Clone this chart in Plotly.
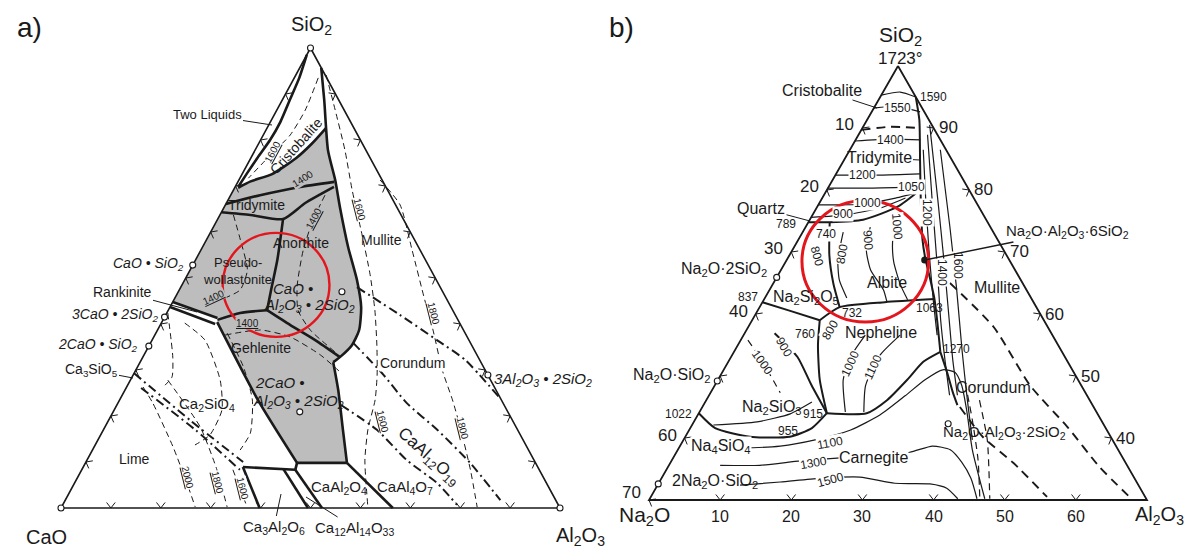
import math
import plotly.graph_objects as go

W, H = 1187, 551
INK = "#1a1a1a"
GREY = "#bdbdbd"
RED = "#e3161e"
FONT = "Arial, Liberation Sans, sans-serif"

# ---------------- CaO–Al2O3–SiO2 (wt %); points are (SiO2, Al2O3) ----------------
cas_two_liquid = [(98.5, 0.0), (93.5, 1.0), (88.7, 1.5), (83.9, 2.0), (80.0, 1.9), (76.1, 1.3), (72.8, 0.9), (69.8, 0.6)]
cas_cristobalite = [(69.6, 0.7), (71.0, 2.5), (72.6, 6.0), (76.1, 9.1), (79.3, 10.7), (82.6, 11.8)]
cas_silica_right = [(95.7, 4.3), (88.7, 8.4), (77.8, 14.6), (71.3, 19.3), (65.4, 23.2), (56.7, 29.2), (49.6, 34.5),
                    (43.7, 38.3), (38.7, 40.4), (35.4, 40.6), (32.8, 39.5), (31.7, 38.7)]
cas_gehlenite_right = [(31.7, 38.7), (25.7, 42.7), (17.0, 48.0), (9.8, 52.4)]
cas_gehlenite_base = [(9.8, 42.4), (9.8, 52.4)]
cas_gehlenite_left = [(40.4, 11.1), (23.5, 27.7), (9.8, 42.4)]
cas_tridymite_upper = [(66.1, 0.0), (68.0, 5.9), (69.8, 13.0), (70.9, 19.3)]
cas_tridymite_lower = [(64.3, 0.0), (63.7, 6.1), (62.8, 13.1), (66.3, 15.8), (69.8, 19.8)]
cas_pwol_anorthite = [(62.8, 13.1), (53.9, 16.4), (47.4, 18.4), (43.0, 19.8)]
cas_anorthite_gehl = [(43.0, 19.8), (39.8, 26.0), (36.5, 32.7), (32.8, 39.5)]
cas_pwol_gehl = [(43.0, 19.8), (42.4, 14.7), (40.9, 10.9)]
cas_rankinite_a = [(44.8, 0.0), (41.3, 10.7)]
cas_rankinite_b = [(43.7, 0.0), (40.0, 10.9)]
cas_c3a_left = [(8.9, 32.0), (0.0, 39.8)]
cas_c3a_top = [(8.9, 32.0), (8.3, 42.8)]
cas_notch = [(9.8, 42.4), (8.3, 42.8)]
cas_c12a7_a = [(8.5, 40.3), (0.0, 49.5)]
cas_c12a7_b = [(8.3, 42.8), (0.0, 52.3)]
cas_ca_ca2 = [(9.8, 52.4), (0.0, 66.5)]

# dash-dot joins
cas_join_c3s = [(29.3, 0.0), (19.1, 16.3), (10.0, 31.5)]
cas_join_c2s = [(26.1, 3.0), (17.0, 18.4), (8.3, 31.7)]
cas_join_mullite = [(48.0, 35.3), (42.0, 46.9), (36.5, 57.1), (32.2, 64.9), (23.9, 76.0)]
cas_join_an = [(35.9, 40.6), (29.3, 49.7), (22.8, 57.9), (17.0, 66.9), (9.8, 77.1), (1.7, 87.2)]
cas_join_geh = [(22.4, 44.9), (17.0, 54.8), (10.4, 64.1), (5.4, 72.7), (0.7, 79.0)]

# dashed isotherms
cas_iso_1600_crist = [(93.5, 4.8), (86.5, 5.7), (81.1, 5.4), (76.7, 3.6), (71.7, 1.7)]
cas_iso_1600 = [(94.1, 6.1), (86.5, 11.7), (77.8, 18.0), (69.1, 23.8), (59.3, 30.7), (50.7, 36.6), (43.0, 41.4),
                (35.4, 45.6), (28.9, 48.9), (23.5, 51.2), (17.0, 53.0), (10.4, 55.7), (0.2, 61.4)]
cas_iso_1800 = [(71.3, 28.3), (65.9, 35.0), (56.1, 42.3), (45.2, 50.3), (38.7, 55.2), (30.0, 61.4), (23.5, 66.7),
                (17.6, 71.2), (8.3, 77.9), (0.2, 83.3)]
cas_iso_1400_an = [(68.0, 18.9), (62.6, 19.2), (56.1, 20.5), (48.5, 23.1), (43.0, 26.0), (38.7, 30.6), (33.9, 38.0)]
cas_iso_1400_pw = [(63.7, 2.7), (58.3, 6.8), (51.7, 11.5), (47.4, 12.2), (45.7, 10.1)]
cas_iso_1400_geh = [(37.6, 14.1), (38.7, 20.6), (37.2, 27.3), (33.3, 35.3), (29.6, 41.1)]
cas_iso_2000 = [(26.3, 3.3), (22.8, 7.0), (13.3, 15.8), (4.6, 23.2), (0.2, 26.8)]
cas_iso_1800_lime = [(27.8, 7.5), (17.6, 19.1), (8.3, 27.1), (0.2, 33.2)]
cas_iso_1600_lime = [(8.3, 30.3), (0.2, 37.2)]
cas_loop_a = [(42.4, 0.2), (32.8, 6.0), (28.5, 8.0), (26.7, 7.5)]
cas_loop_b = [(40.2, 4.7), (36.5, 10.6), (27.8, 18.0), (21.3, 21.6), (15.9, 21.9), (13.7, 20.0)]
cas_loop_c = [(38.0, 14.3), (30.7, 21.2), (23.5, 26.6), (16.3, 29.8), (12.6, 29.6)]

# compounds (open circles)
cas_compounds = [(100.0, 0.0), (0.0, 0.0), (0.0, 100.0), (52.8, 0.0), (41.5, 0.0), (35.2, 0.0),
                 (28.9, 71.1), (47.0, 32.8), (20.9, 37.4)]
cas_tick_values = [10, 20, 30, 40, 50, 60, 70, 80, 90]

# ---------------- Na2O–Al2O3–SiO2 (wt %, SiO2 >= 30); points are (SiO2, Al2O3) ----------------
nas_iso_1590 = [(95.3, 0.0), (95.8, 2.4), (95.0, 5.0)]
nas_iso_1550 = [(93.2, 0.0), (93.5, 3.1), (92.6, 6.8)]
nas_inversion = [(89.7, 0.0), (90.2, 3.8), (90.0, 8.1)]
nas_iso_1400 = [(87.9, 0.0), (88.2, 4.8), (88.1, 9.1)]
nas_iso_1200 = [(82.4, 0.0), (82.4, 6.3), (82.6, 11.8)]
nas_iso_1050 = [(80.3, 0.0), (80.3, 5.9), (80.5, 12.9)]
nas_iso_1000 = [(77.6, 0.0), (77.7, 5.8), (78.7, 10.3), (79.7, 13.3)]
nas_iso_900 = [(75.6, 0.0), (76.0, 4.6), (77.1, 9.0), (78.7, 11.7)]
nas_qz_trid = [(74.8, 0.0), (74.8, 3.0), (75.2, 7.5), (77.3, 11.3), (80.0, 13.1)]
nas_silica_mullite = [(95.0, 5.0), (91.3, 7.35), (84.8, 10.7), (78.4, 14.0), (71.9, 17.5), (69.2, 19.2),
                      (65.5, 21.8), (62.6, 23.8), (59.0, 26.0), (53.9, 29.0)]
nas_corundum_left = [(53.9, 29.0), (50.6, 31.6), (47.4, 34.0), (45.3, 35.7)]
nas_qz_albite = [(74.8, 3.0), (69.5, 5.6), (65.0, 8.4), (61.1, 11.25)]
nas_albite_neph = [(59.0, 9.5), (61.1, 11.25), (61.9, 17.2), (62.4, 24.0)]
nas_ns2_lower = [(61.9, 0.0), (60.5, 4.6), (59.0, 9.5)]
nas_ns_neph = [(59.0, 9.5), (55.0, 11.25), (49.4, 14.3), (44.0, 18.0)]
nas_ns_ns2 = [(56.9, 4.2), (53.1, 9.3), (48.5, 13.6), (44.0, 18.0)]
nas_ns_n2s = [(44.0, 0.0), (41.6, 3.5), (40.2, 9.1), (40.2, 14.7), (41.6, 17.1), (44.0, 18.0)]
nas_iso_955 = [(42.1, 3.0), (42.6, 8.9), (43.9, 12.9), (45.8, 15.0)]
nas_carn_neph = [(44.0, 18.0), (44.0, 23.6), (46.1, 25.4), (49.4, 26.6), (52.3, 27.4), (53.9, 29.0)]
nas_iso_1100 = [(38.5, 2.9), (38.4, 8.6), (38.7, 14.1), (39.7, 18.5), (41.3, 22.7), (43.7, 25.6), (46.8, 27.6),
                (49.4, 29.1), (51.0, 30.8), (50.6, 32.7), (48.5, 34.7), (44.5, 37.4), (38.1, 41.4), (30.2, 47.1)]
nas_iso_1300 = [(35.6, 7.2), (35.6, 12.8), (36.3, 18.1), (36.8, 23.5), (37.3, 28.2), (37.7, 32.8), (38.7, 35.5),
                (38.1, 38.3), (36.1, 40.9), (33.5, 43.5), (30.2, 46.0)]
nas_iso_1500 = [(32.4, 11.6), (32.9, 17.0), (33.5, 22.2), (33.7, 27.8), (32.7, 33.2), (32.6, 38.2), (31.9, 40.9),
                (30.2, 43.3)]
nas_mullite_corundum = [(65.0, 24.8), (57.9, 34.5), (48.5, 44.3), (41.8, 52.9), (35.3, 60.7), (30.0, 68.0)]
nas_corundum_join = [(45.0, 36.2), (40.2, 41.8), (36.0, 48.2), (30.5, 55.7)]
nas_dash_a = [(48.9, 35.0), (42.9, 39.0), (36.5, 43.0), (30.2, 46.4)]
nas_dash_b = [(46.1, 38.4), (39.7, 42.7), (30.2, 47.8)]
nas_mul_1200 = [(86.5, 10.3), (78.4, 14.7), (70.3, 19.2), (62.3, 23.8), (56.6, 27.2)]
nas_mul_1400 = [(88.9, 9.7), (78.4, 15.6), (68.7, 21.1), (59.0, 26.5), (52.6, 30.3), (46.9, 33.8)]
nas_mul_1500 = [(90.5, 9.2), (78.4, 16.4), (68.7, 22.1), (59.0, 27.7), (52.6, 31.4), (46.9, 34.9)]
nas_mul_1600 = [(86.5, 12.7), (74.0, 20.3), (63.9, 26.3), (54.2, 31.9), (46.1, 36.7), (39.7, 40.6)]
nas_neph_1000 = [(56.6, 17.1), (53.4, 16.8), (49.4, 17.6), (44.2, 20.5)]
nas_neph_1100 = [(56.6, 22.0), (53.4, 20.8), (48.5, 21.2), (44.2, 23.1)]
nas_ns_1000 = [(55.8, 1.0), (52.3, 4.8), (47.3, 9.8)]
nas_ab_800 = [(73.2, 5.7), (68.7, 7.2), (65.5, 9.0), (62.6, 11.5)]
nas_ab_900 = [(74.0, 9.1), (70.3, 10.4), (67.1, 12.6), (63.9, 16.0), (61.9, 17.5)]
nas_ab_1000 = [(76.3, 11.8), (71.9, 13.3), (68.4, 15.2), (64.7, 18.0), (62.3, 20.2)]

nas_compounds_open = [(65.9, 0.0), (49.2, 0.0), (32.6, 0.0), (42.3, 35.9)]
nas_albite = [(68.7, 19.4)]
nas_base_ticks = [10, 20, 30, 40, 50, 60]          # Al2O3 on the SiO2 = 30 edge
nas_left_marks = [10, 20, 30, 40, 50, 60, 70]      # Na2O on the Na2O–SiO2 edge
nas_left_labels = [10, 20, 30, 40, 60, 70]
nas_right_ticks = [90, 80, 70, 60, 50, 40]         # SiO2 on the Al2O3–SiO2 edge


def cas_xy(pts):
    return [a + s / 2 for s, a in pts], [s for s, a in pts]


def nas_xy(pts):
    return [a + (s - 30) / 2 for s, a in pts], [s for s, a in pts]


# plot frames: pixel edges of each triangle, data ranges and padding
def frame(px0, px1, py_base, py_top, xr, yr, pad):
    kx = (px1 - px0) / (xr[1] - xr[0])
    ky = (py_base - py_top) / (yr[1] - yr[0])
    dom_x = [(px0 - pad * kx) / W, (px1 + pad * kx) / W]
    dom_y = [(H - py_base - pad * ky) / H, (H - py_top + pad * ky) / H]
    return dict(domain=dom_x, range=[xr[0] - pad, xr[1] + pad]), dict(domain=dom_y, range=[yr[0] - pad, yr[1] + pad]), kx, ky


cas_fx, cas_fy, cas_kx, cas_ky = frame(61, 560, 508, 48, (0, 100), (0, 100), 3)
nas_fx, nas_fy, nas_kx, nas_ky = frame(649, 1147, 500, 66, (0, 70), (30, 100), 3)

fig = go.Figure()


def curve(pts, proj, ax, width=1.1, dash=None, color=INK):
    x, y = proj(pts)
    fig.add_trace(go.Scatter(x=x, y=y, mode="lines", xaxis=ax[0], yaxis=ax[1],
                             line=dict(color=color, width=width, dash=dash, shape="spline", smoothing=0.6),
                             hoverinfo="skip", showlegend=False))


def straight(pts, proj, ax, width=1.1, dash=None):
    x, y = proj(pts)
    fig.add_trace(go.Scatter(x=x, y=y, mode="lines", xaxis=ax[0], yaxis=ax[1],
                             line=dict(color=INK, width=width, dash=dash),
                             hoverinfo="skip", showlegend=False))


def chevrons(pts, proj, ax, kx, ky, normal, arm=7.0, half=38):
    X, Y = proj(pts)
    nx, ny = normal
    xs, ys = [], []
    for x, y in zip(X, Y):
        ends = []
        for sgn in (1, -1):
            t = math.radians(sgn * half)
            ux = nx * math.cos(t) - ny * math.sin(t)
            uy = nx * math.sin(t) + ny * math.cos(t)
            ends.append((x + arm * ux / kx, y + arm * uy / ky))
        xs += [ends[0][0], x, ends[1][0], None]
        ys += [ends[0][1], y, ends[1][1], None]
    fig.add_trace(go.Scatter(x=xs, y=ys, mode="lines", xaxis=ax[0], yaxis=ax[1],
                             line=dict(color=INK, width=1), hoverinfo="skip", showlegend=False))


def unit(vx, vy):
    n = math.hypot(vx, vy)
    return vx / n, vy / n


CAS = ("x", "y")
NAS = ("x2", "y2")
THICK_L = 2.6
DASH = "6px,4px"
DASHDOT = "9px,4px,2px,4px"

# ---------- left diagram ----------
grey_poly = (cas_cristobalite + [p for p in cas_silica_right if p[0] < 82.6] + cas_gehlenite_right[1:]
             + [cas_gehlenite_base[0]] + cas_gehlenite_left[::-1][1:] + cas_rankinite_a[::-1] + [(69.6, 0.0)])
gx, gy = cas_xy(grey_poly)
fig.add_trace(go.Scatter(x=gx, y=gy, mode="lines", fill="toself", fillcolor=GREY, line=dict(width=0),
                         xaxis="x", yaxis="y", hoverinfo="skip", showlegend=False))

for c in (cas_iso_1600_crist, cas_iso_1600, cas_iso_1800, cas_iso_1400_an, cas_iso_1400_pw, cas_iso_1400_geh,
          cas_iso_2000, cas_iso_1800_lime, cas_iso_1600_lime, cas_loop_a, cas_loop_b, cas_loop_c):
    curve(c, cas_xy, CAS, width=1.0, dash=DASH)
for c in (cas_join_c3s, cas_join_c2s, cas_join_mullite, cas_join_an, cas_join_geh):
    curve(c, cas_xy, CAS, width=2.0, dash=DASHDOT)

straight([(100, 0), (0, 0), (0, 100), (100, 0)], cas_xy, CAS, width=1.6)
for c in (cas_two_liquid, cas_cristobalite, cas_silica_right, cas_gehlenite_right, cas_gehlenite_left,
          cas_tridymite_upper, cas_tridymite_lower, cas_pwol_anorthite, cas_anorthite_gehl, cas_pwol_gehl):
    curve(c, cas_xy, CAS, width=THICK_L)
for c in (cas_gehlenite_base, cas_rankinite_a, cas_rankinite_b, cas_c3a_left, cas_c3a_top, cas_notch,
          cas_c12a7_a, cas_c12a7_b, cas_ca_ca2):
    straight(c, cas_xy, CAS, width=THICK_L)

chevrons([(0, v) for v in cas_tick_values], cas_xy, CAS, cas_kx, cas_ky, (0, 1))
chevrons([(v, 0) for v in cas_tick_values], cas_xy, CAS, cas_kx, cas_ky, unit(460, -248))
chevrons([(v, 100 - v) for v in cas_tick_values], cas_xy, CAS, cas_kx, cas_ky, unit(-459, -251))

cx, cy = cas_xy(cas_compounds)
fig.add_trace(go.Scatter(x=cx, y=cy, mode="markers", xaxis="x", yaxis="y", cliponaxis=False,
                         marker=dict(size=6, color="white", line=dict(color=INK, width=1.1)),
                         hoverinfo="skip", showlegend=False))

# ---------- right diagram ----------
for c in (nas_inversion, nas_mullite_corundum, nas_corundum_join):
    curve(c, nas_xy, NAS, width=1.9, dash="9px,6px")
for c in (nas_dash_a, nas_dash_b, nas_ns_1000):
    curve(c, nas_xy, NAS, width=1.2, dash="7px,5px")
for c in (nas_iso_1590, nas_iso_1550, nas_iso_1400, nas_iso_1200, nas_iso_1050, nas_iso_1000, nas_iso_900,
          nas_iso_955, nas_iso_1100, nas_iso_1300, nas_iso_1500, nas_mul_1200, nas_mul_1400, nas_mul_1500,
          nas_mul_1600, nas_neph_1000, nas_neph_1100, nas_ab_800, nas_ab_900, nas_ab_1000):
    curve(c, nas_xy, NAS, width=1.2)

straight([(100, 0), (30, 0), (30, 70), (100, 0)], nas_xy, NAS, width=1.8)
for c in (nas_qz_trid, nas_silica_mullite, nas_corundum_left, nas_qz_albite, nas_albite_neph, nas_ns2_lower,
          nas_ns_neph, nas_ns_ns2, nas_ns_n2s, nas_carn_neph):
    curve(c, nas_xy, NAS, width=2.0)

chevrons([(30, v) for v in nas_base_ticks], nas_xy, NAS, nas_kx, nas_ky, (0, 1))
chevrons([(100 - n, 0) for n in nas_left_marks], nas_xy, NAS, nas_kx, nas_ky, unit(434, -249))
chevrons([(v, 100 - v) for v in nas_right_ticks], nas_xy, NAS, nas_kx, nas_ky, unit(-434, -249))

ox, oy = nas_xy(nas_compounds_open)
fig.add_trace(go.Scatter(x=ox, y=oy, mode="markers", xaxis="x2", yaxis="y2", cliponaxis=False,
                         marker=dict(size=6, color="white", line=dict(color=INK, width=1.1)),
                         hoverinfo="skip", showlegend=False))
ax_, ay_ = nas_xy(nas_albite)
fig.add_trace(go.Scatter(x=ax_, y=ay_, mode="markers", xaxis="x2", yaxis="y2",
                         marker=dict(size=7, color=INK), hoverinfo="skip", showlegend=False))

# ---------- text ----------
ann = []


def label(text, px, py, size=14, angle=0, bg=None, **kw):
    d = dict(text=text, x=px / W, y=1 - py / H, xref="paper", yref="paper", showarrow=False,
             font=dict(size=size, family=FONT, color=INK), textangle=angle, xanchor="center", yanchor="middle")
    if bg:
        d.update(bgcolor=bg, borderpad=0)
    d.update(kw)
    ann.append(d)


def leader(text, tx, ty, px, py, size=14):
    ann.append(dict(text=text, x=tx / W, y=1 - ty / H, xref="paper", yref="paper", showarrow=True,
                    arrowhead=0, arrowwidth=1, arrowcolor=INK, ax=px - tx, ay=py - ty,
                    font=dict(size=size, family=FONT, color=INK)))


WH = "white"
SUB2, SUB3 = "<sub>2</sub>", "<sub>3</sub>"
# left
label("a)", 29, 27, 28)
label("b)", 621, 27, 28)
label("SiO" + SUB2, 311, 25, 20)
label("CaO", 46, 537, 20)
label("Al" + SUB2 + "O" + SUB3, 580, 536, 20)
leader("Two Liquids", 272, 125, 207, 115, 13)
label("Cristobalite", 296, 146, 14, -48)
label("<u>1600</u>", 272, 152, 10, -62, bg=WH)
label("1400", 303, 178, 10, -32, bg=GREY)
label("Tridymite", 256, 205, 14)
label("<u>1400</u>", 314, 219, 10, -62, bg=GREY)
label("Anorthite", 301, 243, 14)
label("Mullite", 381, 240, 14)
label("<u>1600</u>", 360, 209, 10, 76, bg=WH)
label("<u>1800</u>", 434, 313, 10, 76, bg=WH)
label("Pseudo-", 238, 262, 13)
label("wollastonite", 237, 279, 13)
label("<i>CaO •</i>", 293, 288, 15)
label("<i>Al" + SUB2 + "O" + SUB3 + " • 2SiO" + SUB2 + "</i>", 310, 305, 15)
label("<i>CaO • SiO" + SUB2 + "</i>", 149, 264, 14)
leader("Rankinite", 197, 312, 122, 292, 14)
label("<i>3CaO • 2SiO" + SUB2 + "</i>", 115, 315, 14)
label("<i>2CaO • SiO" + SUB2 + "</i>", 98, 345, 14)
leader("Ca" + SUB3 + "SiO<sub>5</sub>", 133, 378, 91, 370, 14)
label("<u>1400</u>", 213, 297, 10, -25, bg=GREY)
label("<u>1400</u>", 248, 323, 10, 0, bg=GREY)
label("Gehlenite", 261, 348, 14)
label("Ca" + SUB2 + "SiO<sub>4</sub>", 207, 404, 15)
label("Lime", 134, 459, 14)
label("<i>2CaO •</i>", 280, 382, 15)
label("<i>Al" + SUB2 + "O" + SUB3 + " • 2SiO" + SUB2 + "</i>", 299, 401, 15)
label("Corundum", 412, 363, 14, bg=WH)
label("<i>3Al" + SUB2 + "O" + SUB3 + " • 2SiO" + SUB2 + "</i>", 543, 379, 15)
label("CaAl<sub>12</sub>O<sub>19</sub>", 428, 457, 17, 42)
label("<u>1600</u>", 383, 421, 10, 76, bg=WH)
label("<u>1800</u>", 462, 428, 10, 76, bg=WH)
label("<u>2000</u>", 188, 477, 10, 76, bg=WH)
label("<u>1800</u>", 218, 482, 10, 76, bg=WH)
label("<u>1600</u>", 243, 488, 10, 76, bg=WH)
label("CaAl" + SUB2 + "O<sub>4</sub>", 339, 487, 15)
label("CaAl<sub>4</sub>O<sub>7</sub>", 405, 487, 15)
leader("Ca" + SUB3 + "Al" + SUB2 + "O<sub>6</sub>", 281, 494, 274, 527, 15)
leader("Ca<sub>12</sub>Al<sub>14</sub>O<sub>33</sub>", 306, 497, 355, 528, 15)

# right
label("SiO" + SUB2, 900, 36, 21)
label("1723°", 900, 58, 17)
leader("Cristobalite", 877, 108, 822, 90, 16)
label("1590", 933, 97, 12)
label("1550", 897, 108, 12, bg=WH)
label("1400", 890, 140, 12, bg=WH)
leader("Tridymite", 920, 160, 879, 158, 16)
label("1200", 862, 175, 12, bg=WH)
label("1050", 911, 187, 12, bg=WH)
label("1000", 867, 203, 12, bg=WH)
label("900", 843, 214, 12, bg=WH)
leader("Quartz", 810, 221, 761, 208, 16)
label("789", 786, 224, 12)
label("740", 826, 234, 12, bg=WH)
label("800", 817, 256, 12, 75)
label("800", 842, 254, 12, -80, bg=WH)
label("900", 868, 240, 12, 85, bg=WH)
label("1000", 897, 226, 12, 85, bg=WH)
label("Albite", 887, 282, 16)
label("Na" + SUB2 + "O·2SiO" + SUB2, 724, 269, 16)
label("837", 748, 297, 12)
label("Na" + SUB2 + "Si" + SUB2 + "O<sub>5</sub>", 806, 297, 16)
label("760", 805, 334, 12)
label("800", 830, 330, 12, -60, bg=WH)
label("732", 852, 313, 12)
label("Nepheline", 881, 332, 16)
label("1063", 929, 308, 12)
label("1200", 927, 212, 12, 90, bg=WH)
label("1400", 942, 272, 12, 90, bg=WH)
label("1600", 958, 265, 12, 90, bg=WH)
label("Mullite", 997, 287, 16)
label("1270", 956, 349, 12)
label("Corundum", 994, 387, 16)
label("Na" + SUB2 + "O·SiO" + SUB2, 671, 375, 16)
label("1000", 762, 362, 12, 55, bg=WH)
label("900", 784, 347, 12, 60, bg=WH)
label("1000", 850, 364, 12, -65, bg=WH)
label("1100", 873, 367, 12, -65, bg=WH)
label("Na" + SUB2 + "SiO" + SUB3, 772, 407, 16)
label("915", 813, 414, 12)
label("1022", 678, 414, 12)
label("955", 788, 431, 12)
label("Na<sub>4</sub>SiO<sub>4</sub>", 721, 446, 16, bg=WH)
label("1100", 830, 443, 12, -10, bg=WH)
label("Carnegite", 873, 457, 16, bg=WH)
label("1300", 813, 463, 12, -10, bg=WH)
label("1500", 830, 480, 12, -15, bg=WH)
label("2Na" + SUB2 + "O·SiO" + SUB2, 715, 481, 16)
label("Na" + SUB2 + "O", 644, 516, 21)
label("Al" + SUB2 + "O" + SUB3, 1159, 515, 20)
label("Na" + SUB2 + "O·Al" + SUB2 + "O" + SUB3 + "·2SiO" + SUB2, 1005, 432, 15)
bx, by = nas_xy(nas_albite)
ann.append(dict(text="Na" + SUB2 + "O·Al" + SUB2 + "O" + SUB3 + "·6SiO" + SUB2, x=bx[0], y=by[0], xref="x2",
                yref="y2", showarrow=True, arrowhead=0, arrowwidth=1.4, arrowcolor=INK, ax=143, ay=-29,
                font=dict(size=15, family=FONT, color=INK)))

# right-diagram scale labels
tx, ty = nas_xy([(30, v) for v in nas_base_ticks])
for v, x, y in zip(nas_base_ticks, tx, ty):
    ann.append(dict(text=str(v), x=x, y=y, xref="x2", yref="y2", showarrow=False, yshift=-16,
                    font=dict(size=16, family=FONT, color=INK)))
tx, ty = nas_xy([(100 - n, 0) for n in nas_left_labels])
for v, x, y in zip(nas_left_labels, tx, ty):
    ann.append(dict(text=str(v), x=x, y=y, xref="x2", yref="y2", showarrow=False, xanchor="right",
                    xshift=-6, yshift=8 if v == 70 else 3, font=dict(size=17, family=FONT, color=INK)))
tx, ty = nas_xy([(v, 100 - v) for v in nas_right_ticks])
for v, x, y in zip(nas_right_ticks, tx, ty):
    ann.append(dict(text=str(v), x=x, y=y, xref="x2", yref="y2", showarrow=False, xanchor="left",
                    xshift=3, yshift=0, font=dict(size=17, family=FONT, color=INK)))

# highlight rings (centre and radii in axis units)
shapes = [
    dict(type="circle", xref="x", yref="y", x0=43.1 - 10.7, x1=43.1 + 10.7, y0=48.5 - 11.3, y1=48.5 + 11.3,
         line=dict(color=RED, width=2.4)),
    dict(type="circle", xref="x2", yref="y2", x0=30.4 - 8.9, x1=30.4 + 8.9, y0=68.5 - 9.8, y1=68.5 + 9.8,
         line=dict(color=RED, width=3)),
]

fig.update_layout(
    width=W, height=H, margin=dict(l=0, r=0, t=0, b=0),
    paper_bgcolor="white", plot_bgcolor="rgba(0,0,0,0)", showlegend=False, hovermode=False,
    xaxis=dict(**cas_fx, visible=False, fixedrange=True),
    yaxis=dict(**cas_fy, visible=False, fixedrange=True, anchor="x"),
    xaxis2=dict(**nas_fx, visible=False, fixedrange=True, anchor="y2"),
    yaxis2=dict(**nas_fy, visible=False, fixedrange=True, anchor="x2"),
    annotations=ann, shapes=shapes,
)

fig.write_html("out.html")
